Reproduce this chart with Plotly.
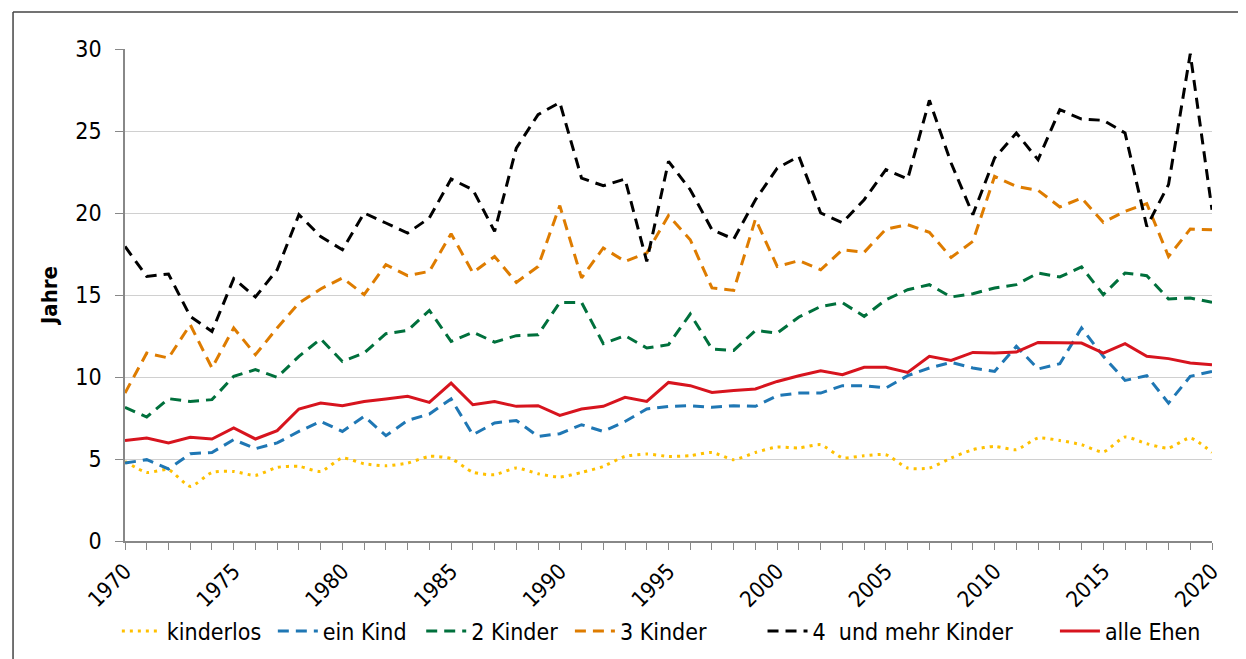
import plotly.graph_objects as go

years = list(range(1970, 2021))

kinderlos = [4.85, 4.18, 4.35, 3.33, 4.18, 4.24, 4.0, 4.49, 4.55, 4.24,
             5.06, 4.71, 4.59, 4.75, 5.16, 5.02, 4.2, 4.04, 4.45, 4.1,
             3.9, 4.18, 4.55, 5.16, 5.3, 5.16, 5.2, 5.4, 4.96, 5.4,
             5.73, 5.67, 5.87, 5.08, 5.2, 5.26, 4.45, 4.45, 5.06, 5.57,
             5.77, 5.57, 6.28, 6.13, 5.87, 5.43, 6.34, 5.93, 5.67, 6.28,
             5.4]
ein_kind = [4.75, 4.96, 4.39, 5.32, 5.4, 6.18, 5.63, 5.98, 6.68, 7.29,
            6.68, 7.6, 6.42, 7.35, 7.74, 8.66, 6.48, 7.2, 7.35, 6.38,
            6.54, 7.09, 6.68, 7.29, 8.05, 8.21, 8.25, 8.15, 8.25, 8.21,
            8.86, 9.02, 9.02, 9.47, 9.47, 9.33, 10.08, 10.55, 10.89, 10.55,
            10.34, 11.87, 10.49, 10.81, 12.99, 11.26, 9.79, 10.08, 8.41, 10.04,
            10.34]
zwei_kinder = [8.15, 7.56, 8.68, 8.51, 8.62, 10.04, 10.45, 9.98, 11.26, 12.32,
               10.95, 11.46, 12.64, 12.84, 14.06, 12.17, 12.73, 12.13, 12.52, 12.58,
               14.55, 14.55, 12.03, 12.52, 11.77, 11.97, 13.84, 11.71, 11.62, 12.84,
               12.68, 13.66, 14.3, 14.53, 13.7, 14.71, 15.32, 15.63, 14.88, 15.08,
               15.43, 15.63, 16.34, 16.1, 16.71, 15.02, 16.34, 16.18, 14.76, 14.82,
               14.55]
drei_kinder = [9.02, 11.46, 11.16, 13.19, 10.55, 12.99, 11.36, 12.99, 14.51, 15.37,
               16.04, 15.02, 16.85, 16.18, 16.44, 18.74, 16.36, 17.35, 15.77, 16.74,
               20.45, 16.04, 17.87, 17.05, 17.56, 19.84, 18.37, 15.43, 15.28, 19.63,
               16.74, 17.09, 16.54, 17.76, 17.6, 19.02, 19.29, 18.82, 17.29, 18.27,
               22.23, 21.62, 21.38, 20.37, 20.91, 19.43, 20.1, 20.57, 17.35, 19.02,
               18.98]
vier_mehr = [17.96, 16.13, 16.28, 13.7, 12.78, 16.0, 14.88, 16.54, 19.9, 18.57,
             17.76, 20.0, 19.39, 18.78, 19.7, 22.07, 21.42, 18.88, 23.96, 26.0,
             26.74, 22.13, 21.66, 22.07, 17.05, 23.15, 21.42, 18.98, 18.41, 20.81,
             22.74, 23.45, 20.0, 19.41, 20.81, 22.64, 22.07, 26.87, 23.05, 19.9,
             23.35, 24.88, 23.25, 26.3, 25.73, 25.65, 24.88, 19.18, 21.73, 29.71,
             20.2]
alle_ehen = [6.12, 6.28, 5.98, 6.32, 6.22, 6.89, 6.22, 6.73, 8.05, 8.41,
             8.25, 8.51, 8.66, 8.82, 8.45, 9.63, 8.31, 8.51, 8.21, 8.25,
             7.66, 8.05, 8.21, 8.76, 8.51, 9.67, 9.47, 9.06, 9.18, 9.27,
             9.73, 10.08, 10.38, 10.14, 10.59, 10.59, 10.28, 11.26, 11.01, 11.5,
             11.46, 11.52, 12.11, 12.07, 12.07, 11.46, 12.03, 11.26, 11.12, 10.85,
             10.75]

series = [
    ("kinderlos", kinderlos, "#FFC000", "3px,5px", 3, "spline"),
    ("ein Kind", ein_kind, "#1F77B4", "11px,7px", 3, "linear"),
    ("2 Kinder", zwei_kinder, "#00703C", "11px,7px", 3, "linear"),
    ("3 Kinder", drei_kinder, "#DE7C00", "11px,7px", 3, "linear"),
    ("4  und mehr Kinder", vier_mehr, "#000000", "11px,7px", 3, "linear"),
    ("alle Ehen", alle_ehen, "#D7141E", "solid", 3, "linear"),
]

# horizontal placement of each legend entry (paper x)
legend_x = [-0.0075, 0.136, 0.2725, 0.4093, 0.5865, 0.8555]

font = "DejaVu Sans Condensed, Liberation Sans Narrow, DejaVu Sans, sans-serif"

fig = go.Figure()
legend_layouts = {}
for i, (name, vals, color, dash, width, shape) in enumerate(series):
    key = "legend" if i == 0 else f"legend{i + 1}"
    fig.add_trace(go.Scatter(
        x=years, y=vals, name=name, mode="lines", legend=key,
        line=dict(color=color, dash=dash, width=width, shape=shape, smoothing=0.6),
    ))
    legend_layouts[key] = dict(orientation="h", x=legend_x[i], xanchor="left",
                               y=-0.183, yanchor="middle", font=dict(size=23),
                               itemwidth=40, bgcolor="rgba(0,0,0,0)")

fig.update_layout(
    width=1238, height=651,
    margin=dict(l=117, r=34, t=41, b=118, autoexpand=False),
    plot_bgcolor="white", paper_bgcolor="white",
    font=dict(family=font, size=23, color="black"),
    showlegend=True,
    xaxis=dict(range=[1970, 2020], tickmode="array", tickvals=list(range(1970, 2021, 5)),
               tickangle=-45, showgrid=False, showline=True, linecolor="#888888",
               linewidth=1.5, ticks="outside", ticklen=7, tickcolor="#888888",
               minor=dict(dtick=1, tick0=1970, ticks="outside", ticklen=7, tickcolor="#888888"),
               tickfont=dict(size=22), zeroline=False, automargin=False),
    yaxis=dict(range=[0, 30], dtick=5, showgrid=True, gridcolor="#D0D0D0", gridwidth=1.2,
               showline=True, linecolor="#888888", linewidth=1.5, ticks="outside",
               ticklen=8, tickcolor="#888888", tickfont=dict(size=23), zeroline=False,
               ticklabelstandoff=9, automargin=False,
               title=dict(text="<b>Jahre</b>", font=dict(size=22), standoff=12)),
    **legend_layouts,
)

# outer frame (left and top edges)
fig.add_shape(type="line", xref="paper", yref="paper", x0=-0.103, x1=-0.103,
              y0=-118/492, y1=1.075, line=dict(color="#444444", width=1.5))
fig.add_shape(type="line", xref="paper", yref="paper", x0=-0.103, x1=1.04,
              y0=1.075, y1=1.075, line=dict(color="#444444", width=1.5))

fig.write_html("out.html")
